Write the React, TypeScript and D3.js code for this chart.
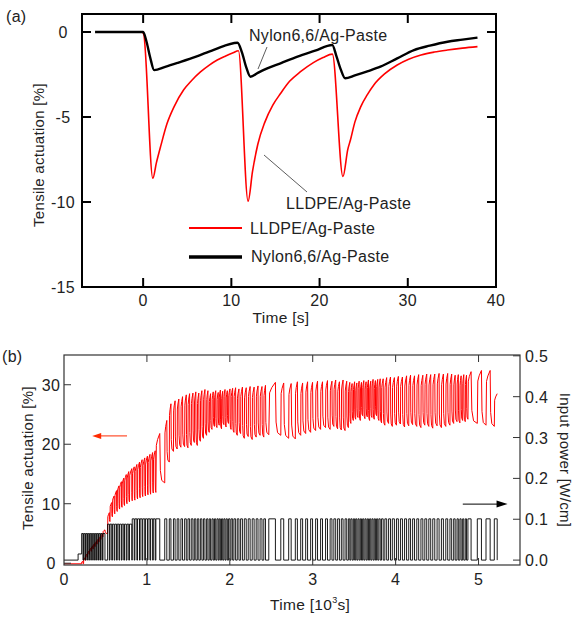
import React from 'react';
import * as d3 from 'd3';

// ---------- panel (a): single actuation cycles ----------
const lldpeTime = [-5.3, -1, -0.2, 0.05, 1.1, 1.5, 2.0, 2.7, 3.5, 4.6, 5.5, 6.5, 7.5, 8.4, 9.3, 10.2, 10.8,
  11.9, 12.4, 13.0, 13.8, 14.7, 15.6, 16.6, 17.8, 19.3, 20.4, 21.45,
  22.65, 23.2, 23.5, 24.0, 24.66, 25.4, 26.17, 27.4, 28.8, 30.1, 31.5, 33.0, 34.5, 36.2, 37.9];
const lldpeAct = [0, 0, 0, -0.1, -8.6, -7.7, -6.7, -5.4, -4.4, -3.4, -2.85, -2.35, -1.95, -1.65, -1.42, -1.22, -1.1,
  -9.95, -8.2, -6.6, -5.3, -4.3, -3.6, -2.9, -2.35, -1.8, -1.5, -1.3,
  -8.5, -6.9, -6.35, -5.3, -4.4, -3.7, -3.1, -2.45, -1.94, -1.6, -1.35, -1.18, -1.06, -0.95, -0.86];

const nylonTime = [-5.45, -1, 0.0, 0.4, 0.8, 1.25, 2.5, 4, 6, 8, 10.7, 11.2, 11.7, 12.16, 13, 14, 15.57,
  17.5, 19.5, 21.44, 21.9, 22.4, 22.9, 24, 25.5, 26.9, 28.8, 30.7, 32.5, 34.5, 36.2, 37.9];
const nylonAct = [0, 0, 0, -0.6, -1.5, -2.24, -2.05, -1.8, -1.45, -1.05, -0.63, -1.2, -2.1, -2.63, -2.4, -2.15, -1.84,
  -1.45, -1.1, -0.76, -1.4, -2.2, -2.72, -2.55, -2.3, -2.04, -1.55, -1.06, -0.8, -0.57, -0.45, -0.33];

const aTicksX = [0, 10, 20, 30, 40];
const aTicksY = [0, -5, -10, -15];

// ---------- panel (b): long-term cycling ----------
// power-on / power-off time of each cycle [10^3 s]
const cycleOn = [
  0.213, 0.236, 0.260, 0.283, 0.307, 0.330, 0.353, 0.377, 0.400, 0.424,
  0.447, 0.470, 0.526, 0.555, 0.584, 0.613, 0.642, 0.671, 0.700, 0.730,
  0.760, 0.790, 0.823, 0.855, 0.887, 0.918, 0.950, 0.982, 1.013, 1.045,
  1.077, 1.108, 1.215, 1.27, 1.32, 1.365, 1.41, 1.455, 1.495, 1.535,
  1.572, 1.608, 1.645, 1.682, 1.72, 1.752, 1.785, 1.815, 1.845, 1.872,
  1.9, 1.928, 1.955, 1.985, 2.015, 2.05, 2.09, 2.13, 2.175, 2.222,
  2.27, 2.318, 2.365, 2.41, 2.47, 2.615, 2.71, 2.79, 2.855, 2.915,
  2.975, 3.035, 3.095, 3.155, 3.21, 3.255, 3.3, 3.345, 3.39, 3.43,
  3.46, 3.49, 3.518, 3.546, 3.574, 3.602, 3.63, 3.658, 3.686, 3.714,
  3.742, 3.77, 3.798, 3.83, 3.87, 3.915, 3.96, 4.01, 4.058, 4.108,
  4.158, 4.205, 4.255, 4.305, 4.352, 4.4, 4.448, 4.5, 4.552, 4.605,
  4.655, 4.7, 4.74, 4.775, 4.808, 4.84, 4.872, 4.985, 5.09, 5.19,
];
const cycleOff = [
  0.229, 0.252, 0.276, 0.299, 0.323, 0.346, 0.369, 0.393, 0.416, 0.440,
  0.463, 0.494, 0.547, 0.576, 0.605, 0.634, 0.663, 0.692, 0.721, 0.751,
  0.781, 0.818, 0.847, 0.879, 0.911, 0.942, 0.974, 1.006, 1.037, 1.069,
  1.100, 1.155, 1.24, 1.29, 1.34, 1.385, 1.43, 1.475, 1.515, 1.555,
  1.59, 1.626, 1.663, 1.70, 1.736, 1.768, 1.80, 1.83, 1.86, 1.886,
  1.914, 1.942, 1.97, 2.002, 2.034, 2.07, 2.11, 2.152, 2.198, 2.245,
  2.293, 2.34, 2.388, 2.43, 2.55, 2.65, 2.74, 2.815, 2.878, 2.938,
  2.998, 3.058, 3.118, 3.178, 3.232, 3.277, 3.322, 3.366, 3.41, 3.447,
  3.475, 3.505, 3.532, 3.56, 3.588, 3.616, 3.644, 3.672, 3.70, 3.728,
  3.756, 3.784, 3.814, 3.85, 3.892, 3.938, 3.985, 4.033, 4.082, 4.132,
  4.18, 4.228, 4.278, 4.328, 4.375, 4.423, 4.472, 4.524, 4.576, 4.628,
  4.676, 4.718, 4.756, 4.79, 4.822, 4.855, 4.91, 5.035, 5.14, 5.225,
];
// tensile actuation [%] at the top and bottom of each cycle
const cyclePeak = [
  0.3, 0.9, 1.5, 2.0, 2.5, 2.9, 3.3, 3.7, 4.1, 4.5,
  4.9, 5.6, 8.5, 10.2, 11.3, 12.2, 13.0, 13.7, 14.3, 14.9,
  15.4, 15.9, 16.2, 16.6, 17.0, 17.4, 17.7, 18.0, 18.3, 18.6,
  18.9, 21.8, 24.0, 26.8, 27.3, 27.6, 28.0, 28.3, 28.5, 28.6,
  28.8, 28.6, 29.0, 29.2, 29.0, 28.5, 28.8, 29.0, 28.7, 29.1,
  28.9, 29.2, 29.0, 29.3, 29.4, 29.5, 29.3, 29.6, 29.5, 29.7,
  29.6, 29.8, 29.7, 29.9, 30.4, 30.3, 30.2, 30.5, 30.3, 30.5,
  30.4, 30.6, 30.5, 30.7, 30.6, 30.8, 30.5, 30.8, 30.6, 30.4,
  30.2, 30.5, 30.3, 30.6, 30.4, 30.7, 30.5, 30.8, 30.6, 30.9,
  30.7, 30.9, 31.0, 31.0, 31.2, 31.3, 31.2, 31.4, 31.3, 31.5,
  31.6, 31.5, 31.7, 31.6, 31.8, 31.7, 31.8, 31.9, 31.8, 31.9,
  31.8, 31.6, 31.7, 31.5, 31.7, 31.6, 32.2, 32.4, 32.4, 28.5,
];
const cycleTrough = [
  -0.1, 0.5, 1.0, 1.5, 2.0, 2.4, 2.8, 3.2, 3.6, 4.0,
  4.4, 5.0, 7.0, 7.8, 8.3, 8.7, 9.1, 9.4, 9.7, 10.0,
  10.3, 10.5, 10.6, 10.8, 11.0, 11.2, 11.3, 11.5, 11.6, 11.8,
  11.9, 13.5, 17.0, 18.8, 19.2, 19.5, 19.6, 19.4, 19.8, 20.3,
  19.8, 20.5, 21.0, 21.5, 22.0, 22.5, 23.0, 22.8, 23.2, 22.6,
  23.3, 22.9, 23.5, 22.5, 22.0, 21.5, 21.8, 21.0, 21.3, 20.8,
  21.2, 21.5, 21.2, 21.6, 21.5, 21.0, 20.9, 21.5, 21.8, 22.0,
  22.3, 22.5, 22.8, 22.5, 23.0, 22.6, 22.4, 22.3, 22.8, 23.5,
  24.0, 24.2, 24.5, 24.0, 24.8, 24.3, 24.6, 24.0, 24.5, 24.2,
  24.8, 24.0, 23.6, 23.2, 23.5, 23.0, 23.2, 23.4, 22.9, 23.1,
  23.3, 23.0, 22.8, 23.2, 23.0, 22.7, 23.1, 22.8, 23.0, 23.2,
  23.5, 23.8, 23.6, 24.0, 23.8, 24.2, 23.5, 23.2, 23.0, 28.5,
];
const baseActuation = -0.1;
// input power level [W/cm] switched at these times
const powerStepTime = [0, 0.17, 0.213, 0.51, 0.822];
const powerStepLevel = [0, 0.015, 0.065, 0.088, 0.101];

const bTicksX = [0, 1, 2, 3, 4, 5];
const bTicksY = [0, 10, 20, 30];
const bTicksP = [0, 0.1, 0.2, 0.3, 0.4, 0.5];

const W = 574;
const H = 617;
const font = 'Liberation Sans, Arial, sans-serif';
const ink = '#222';

const xA = d3.scaleLinear().domain([-6.93, 40]).range([82, 496]);
const yA = d3.scaleLinear().domain([-15, 1.06]).range([287, 14]);

const xB = d3.scaleLinear().domain([0, 5.5]).range([64, 520]);
const yB = d3.scaleLinear().domain([-0.3, 35]).range([565, 355]);
const yP = d3.scaleLinear().domain([-0.012, 0.502]).range([565, 355]);

const lineA = d3.line<[number, number]>()
  .x(d => xA(d[0]))
  .y(d => yA(d[1]))
  .curve(d3.curveMonotoneX);

const lldpePath = lineA(lldpeTime.map((t, i) => [t, lldpeAct[i]]));
const nylonPath = lineA(nylonTime.map((t, i) => [t, nylonAct[i]]));

// red actuation trace: steep rise while powered with a rounded top, steep fall, flat until next cycle
const actPts: [number, number][] = [[0, baseActuation], [cycleOn[0], baseActuation]];
let prev = baseActuation;
cycleOn.forEach((on, i) => {
  const off = cycleOff[i];
  const pk = cyclePeak[i];
  const tr = cycleTrough[i];
  const d = off - on;
  actPts.push(
    [on + 0.12 * d, prev + 0.8 * (pk - prev)],
    [on + 0.45 * d, pk - 0.1 * (pk - prev)],
    [off, pk],
  );
  if (i < cycleOn.length - 1) {
    const gap = cycleOn[i + 1] - off;
    actPts.push(
      [off + 0.12 * gap, tr + 0.25 * (pk - tr)],
      [off + 0.4 * gap, tr + 0.05 * (pk - tr)],
      [cycleOn[i + 1], tr],
    );
    prev = tr;
  }
});
const actPath = d3.line<[number, number]>().x(d => xB(d[0])).y(d => yB(d[1]))(actPts);

// black power trace: square pulses
const levelAt = (t: number) => powerStepLevel[d3.bisectRight(powerStepTime, t) - 1];
const powPts: [number, number][] = [[0, 0], [0.17, 0], [0.17, levelAt(0.17)], [cycleOn[0], levelAt(0.17)]];
cycleOn.forEach((on, i) => {
  const lvl = levelAt(on);
  if (i > 0) powPts.push([on, 0]);
  powPts.push([on, lvl], [cycleOff[i], lvl], [cycleOff[i], 0]);
});
const powPath = d3.line<[number, number]>().x(d => xB(d[0])).y(d => yP(d[1]))(powPts);

const txt = { fontFamily: font, fill: ink, letterSpacing: 0.3 } as const;
const tick = 16;

const PanelA = () => {
  const [x0, x1] = xA.range();
  const [y0, y1] = yA.range();
  return (
    <g>
      <text x={6} y={22} fontSize={16} {...txt}>(a)</text>
      <path d={lldpePath ?? ''} fill="none" stroke="#ff0000" strokeWidth={1.6} />
      <path d={nylonPath ?? ''} fill="none" stroke="#000" strokeWidth={2.4} strokeLinejoin="round" />
      {/* frame */}
      <rect x={x0} y={y1} width={x1 - x0} height={y0 - y1} fill="none" stroke="#000" strokeWidth={2} />
      {aTicksX.filter(t => t < 40).map(t => (
        <g key={t}>
          <line x1={xA(t)} x2={xA(t)} y1={y0} y2={y0 - 9} stroke="#000" strokeWidth={2} />
          <line x1={xA(t)} x2={xA(t)} y1={y1} y2={y1 + 9} stroke="#000" strokeWidth={2} />
        </g>
      ))}
      {aTicksX.map(t => (
        <text key={t} x={xA(t)} y={306} fontSize={tick} textAnchor="middle" {...txt}>{t}</text>
      ))}
      {aTicksY.filter(t => t > -15).map(t => (
        <g key={t}>
          <line x1={x0} x2={x0 + 9} y1={yA(t)} y2={yA(t)} stroke="#000" strokeWidth={2} />
          <line x1={x1} x2={x1 - 9} y1={yA(t)} y2={yA(t)} stroke="#000" strokeWidth={2} />
        </g>
      ))}
      {aTicksY.map(t => (
        <text key={t} x={63} y={yA(t) + 6} fontSize={tick} textAnchor="middle" {...txt}>{t}</text>
      ))}
      <text x={281} y={323} fontSize={15.5} textAnchor="middle" {...txt}>Time [s]</text>
      <text transform="translate(44,155) rotate(-90)" fontSize={15} textAnchor="middle" {...txt}>
        Tensile actuation [%]
      </text>
      {/* annotations */}
      <text x={249} y={40.5} fontSize={16} {...txt}>Nylon6,6/Ag-Paste</text>
      <line x1={267} y1={47} x2={258} y2={69} stroke="#333" strokeWidth={0.8} />
      <text x={286} y={209} fontSize={16} {...txt}>LLDPE/Ag-Paste</text>
      <line x1={264} y1={155} x2={307} y2={192} stroke="#333" strokeWidth={0.8} />
      {/* legend */}
      <line x1={189} x2={242} y1={228} y2={228} stroke="#ff0000" strokeWidth={2} />
      <text x={250} y={234} fontSize={16} {...txt}>LLDPE/Ag-Paste</text>
      <line x1={189} x2={242} y1={257} y2={257} stroke="#000" strokeWidth={3.5} />
      <text x={251} y={262} fontSize={16} {...txt}>Nylon6,6/Ag-Paste</text>
    </g>
  );
};

const PanelB = () => {
  const [x0, x1] = xB.range();
  const [y0, y1] = yB.range();
  const frame = '#333';
  return (
    <g>
      <text x={2} y={362} fontSize={16} {...txt}>(b)</text>
      <path d={actPath ?? ''} fill="none" stroke="#ff0000" strokeWidth={1} />
      <path d={powPath ?? ''} fill="none" stroke="#000" strokeWidth={0.9} />
      <rect x={x0} y={y1} width={x1 - x0} height={y0 - y1} fill="none" stroke={frame} strokeWidth={1.2} />
      {bTicksX.filter(t => t > 0).map(t => (
        <g key={t}>
          <line x1={xB(t)} x2={xB(t)} y1={y0} y2={y0 - 7} stroke={frame} />
          <line x1={xB(t)} x2={xB(t)} y1={y1} y2={y1 + 7} stroke={frame} />
        </g>
      ))}
      {bTicksX.map(t => (
        <text key={t} x={xB(t)} y={585} fontSize={tick} textAnchor="middle" {...txt}>{t}</text>
      ))}
      {bTicksY.map(t => (
        <g key={t}>
          <line x1={x0} x2={x0 + 7} y1={yB(t)} y2={yB(t)} stroke={frame} />
          <text x={51} y={yB(t) + 6} fontSize={tick} textAnchor="middle" {...txt}>{t}</text>
        </g>
      ))}
      {bTicksP.map(t => (
        <g key={t}>
          <line x1={x1} x2={x1 - 7} y1={yP(t)} y2={yP(t)} stroke={frame} />
          <text x={525} y={yP(t) + 6} fontSize={tick} {...txt}>{t.toFixed(1)}</text>
        </g>
      ))}
      <text x={270} y={610} fontSize={15.5} {...txt}>
        Time [10<tspan fontSize={9} dy={-7}>3</tspan><tspan dy={7}>s]</tspan>
      </text>
      <text transform="translate(33,458) rotate(-90)" fontSize={15} textAnchor="middle" {...txt}>
        Tensile actuation [%]
      </text>
      <text transform="translate(560,460) rotate(90)" fontSize={15} textAnchor="middle" {...txt}>
        Input power [W/cm]
      </text>
      {/* direction arrows */}
      <line x1={xB(0.76)} x2={xB(0.4)} y1={yB(21.4)} y2={yB(21.4)} stroke="#ff2a00" strokeWidth={1} />
      <path d={`M${xB(0.34)},${yB(21.4)} l9,-3 l0,6 z`} fill="#ff2a00" />
      <line x1={xB(4.81)} x2={xB(5.25)} y1={yP(0.137)} y2={yP(0.137)} stroke="#000" strokeWidth={1} />
      <path d={`M${xB(5.35)},${yP(0.137)} l-11,-3.5 l0,7 z`} fill="#000" />
    </g>
  );
};

const App = () => (
  <svg width={W} height={H} style={{ position: 'absolute', left: 0, top: 0, background: '#fff' }}>
    <PanelA />
    <PanelB />
  </svg>
);

export default App;
